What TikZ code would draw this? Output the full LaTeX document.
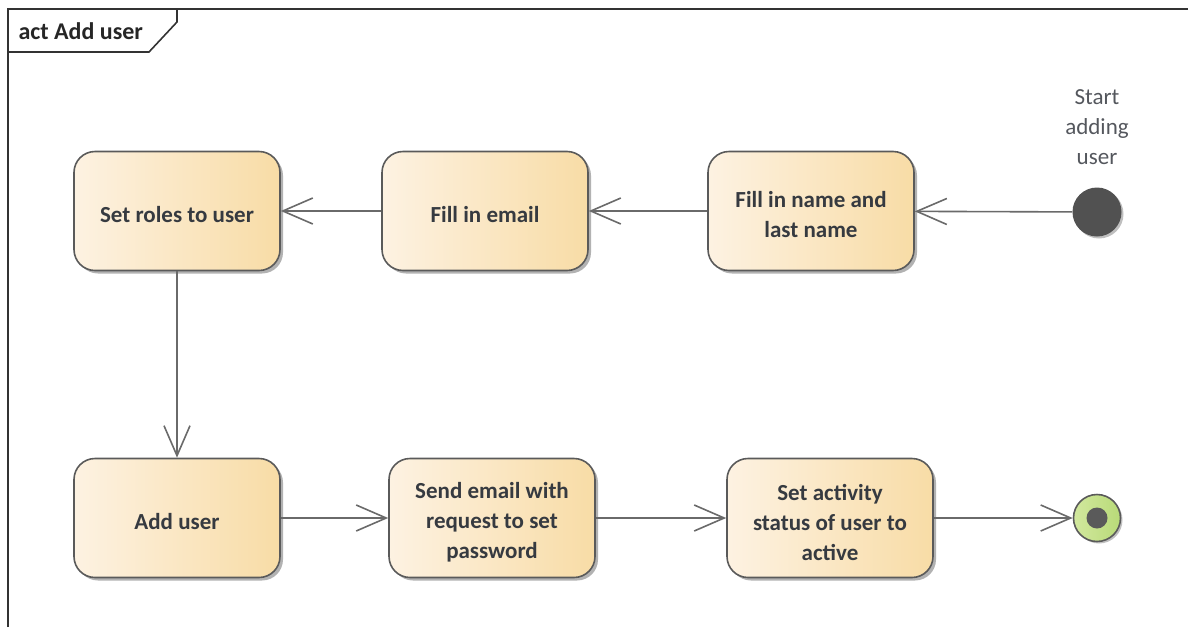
\documentclass[tikz,border=0pt]{standalone}
\usepackage{fontspec}
\setmainfont{Carlito}
\usetikzlibrary{arrows.meta,shadows,calc}
\definecolor{lineg}{HTML}{6A6A6A}
\definecolor{bordg}{HTML}{5A5A5A}
\definecolor{txtc}{HTML}{363A40}
\definecolor{actL}{HTML}{FDF2E2}
\definecolor{actR}{HTML}{F8DCA6}
\definecolor{finL}{HTML}{D2E89E}
\definecolor{finR}{HTML}{B8DA78}
\tikzset{
  action/.style={draw=bordg, line width=1.6pt, rounded corners=21pt,
    minimum width=206pt, minimum height=119pt, align=center,
    left color=actL, right color=actR,
    drop shadow={shadow xshift=3pt, shadow yshift=-3pt, fill=black, opacity=0.3}},
  atext/.style={yshift=-4pt, align=center,
    font=\fontsize{23}{30}\selectfont\bfseries, text=txtc},
  flow/.style={draw=lineg, line width=1.6pt,
    -{Straight Barb[length=30pt,width=26pt,line width=1.6pt]}},
  initnode/.style={circle, fill=bordg!90!black, minimum size=49pt, inner sep=0pt,
    drop shadow={shadow xshift=2pt, shadow yshift=-2pt, fill=black, opacity=0.25}},
  finalnode/.style={circle, draw=bordg, line width=1.6pt, left color=finL, right color=finR,
    minimum size=47pt, inner sep=0pt,
    drop shadow={shadow xshift=2pt, shadow yshift=-2pt, fill=black, opacity=0.25}},
  finaldot/.style={circle, fill=bordg, minimum size=21pt, inner sep=0pt},
  lbl/.style={font=\fontsize{23}{30}\selectfont, text=txtc!85!white, align=center}
}
\begin{document}
\begin{tikzpicture}[x=1pt,y=-1pt]
\useasboundingbox (0,0) rectangle (1188,627);
% frame
\draw[line width=1.6pt, draw=black!80] (8,627) -- (8,9) -- (1188,9);
\draw[line width=1.6pt, draw=black!80] (8,52) -- (149,52) -- (177,22) -- (177,9);
\node[anchor=west, font=\fontsize{24}{28}\selectfont\bfseries, text=black!85] (title) at (15,31) {act Add user};
% nodes
\node[action, label={[atext]center:Set roles to user}] (roles) at (177,211) {};
\node[action, label={[atext]center:Fill in email}] (email) at (485,211) {};
\node[action, label={[atext]center:Fill in name and\\last name}] (name) at (811,211) {};
\node[initnode] (init) at (1097,212) {};
\node[lbl] (startlbl) at (1097,127) {Start\\adding\\user};
\node[action, label={[atext]center:Add user}] (add) at (177,518) {};
\node[action, label={[atext]center:Send email with\\request to set\\password}] (send) at (492,518) {};
\node[action, label={[atext]center:Set activity\\status of user to\\active}] (act) at (830,518) {};
\node[finalnode] (final) at (1097,518) {};
\node[finaldot] (finaldot) at (final) {};
% connectors
\draw[flow] (init) -- (name);
\draw[flow] (name) -- (email);
\draw[flow] (email) -- (roles);
\draw[flow] (roles) -- (add);
\draw[flow] (add) -- (send);
\draw[flow] (send) -- (act);
\draw[flow] (act) -- (final);
\end{tikzpicture}
\end{document}
